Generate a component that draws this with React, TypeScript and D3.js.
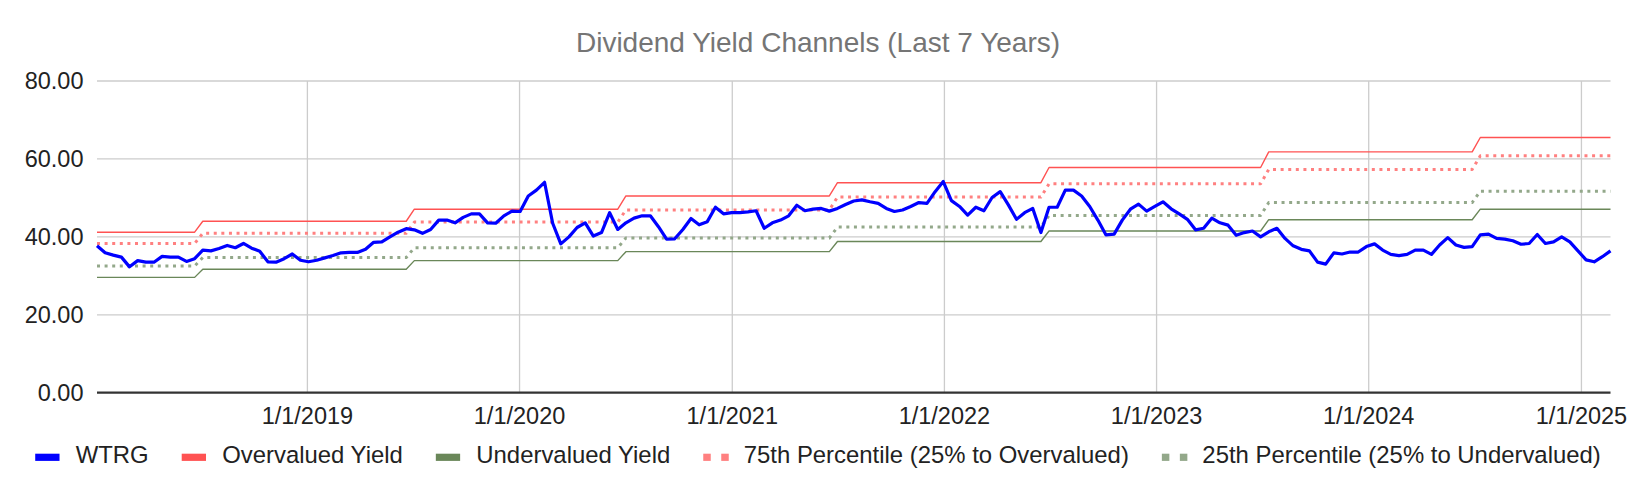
import React, { useEffect, useRef } from 'react';
import * as d3 from 'd3';

const W = 1636;
const H = 494;

// Bi-weekly observations starting 2018-01-04
const START_DATE = Date.UTC(2018, 0, 4);
const STEP_DAYS = 14;

const wtrg = [
  37.7, 35.9, 35.3, 34.8, 32.3, 33.9, 33.5, 33.5, 35.0, 34.8,
  34.8, 33.7, 34.4, 36.6, 36.4, 37.0, 37.8, 37.2, 38.3, 37.1,
  36.3, 33.6, 33.5, 34.4, 35.6, 34.0, 33.6, 34.0, 34.6, 35.2,
  35.9, 36.0, 36.0, 36.8, 38.6, 38.7, 40.0, 41.2, 42.1, 41.8,
  40.9, 41.9, 44.3, 44.3, 43.6, 45.0, 45.9, 45.9, 43.6, 43.5,
  45.4, 46.6, 46.5, 50.5, 52.0, 54.0, 43.5, 38.2, 40.0, 42.4,
  43.6, 40.2, 41.1, 46.2, 41.9, 43.6, 44.8, 45.4, 45.4, 42.6,
  39.4, 39.5, 41.9, 44.7, 43.1, 43.9, 47.6, 45.9, 46.2, 46.2,
  46.4, 46.7, 42.2, 43.6, 44.3, 45.4, 48.1, 46.7, 47.1,
  47.3, 46.6, 47.3, 48.3, 49.2, 49.5, 49.0, 48.6, 47.3, 46.5,
  46.9, 47.8, 48.8, 48.6, 51.6, 54.2, 49.3, 47.8, 45.6, 47.6,
  46.7, 50.1, 51.6, 48.2, 44.5, 46.2, 47.3, 41.1, 47.6, 47.6,
  52.0, 52.0, 50.5, 47.8, 44.3, 40.5, 40.7, 44.3, 47.1, 48.4,
  46.6, 47.8, 49.0, 47.2, 45.9, 44.5, 41.8, 42.2, 44.8,
  43.6, 43.0, 40.4, 41.1, 41.5, 40.0, 41.3, 42.2, 39.6, 37.7,
  36.8, 36.4, 33.5, 33.0, 35.9, 35.6, 36.1, 36.1, 37.5, 38.2,
  36.6, 35.5, 35.2, 35.5, 36.6, 36.6, 35.5, 37.9, 39.8, 37.9,
  37.3, 37.5, 40.5, 40.7, 39.6, 39.4, 39.0, 38.1, 38.3, 40.6,
  38.3, 38.7, 40.0, 38.7, 36.4, 34.1, 33.6, 34.9, 36.4,
];

// Channel levels by yearly period (reset at end of June)
const periodStarts = [
  '2018-01-01', '2018-06-30', '2019-06-30', '2020-06-30',
  '2021-06-30', '2022-06-30', '2023-06-30', '2024-06-30',
];
const overvalued = [41.2, 44.0, 47.1, 50.5, 53.9, 57.8, 61.8, 65.5];
const pct75 = [38.3, 40.9, 43.8, 46.9, 50.2, 53.6, 57.3, 60.8];
const pct25 = [32.5, 34.7, 37.2, 39.7, 42.5, 45.5, 48.8, 51.7];
const undervalued = [29.6, 31.7, 33.9, 36.2, 38.8, 41.5, 44.4, 47.1];

const yTicks = [0, 20, 40, 60, 80];
const xTickYears = [2019, 2020, 2021, 2022, 2023, 2024, 2025];

const seriesNames = [
  'WTRG',
  'Overvalued Yield',
  'Undervalued Yield',
  '75th Percentile (25% to Overvalued)',
  '25th Percentile (25% to Undervalued)',
];

const TITLE = 'Dividend Yield Channels (Last 7 Years)';
const FONT = '"Liberation Sans", Arial, Helvetica, sans-serif';

export default function App() {
  const ref = useRef<SVGSVGElement | null>(null);

  useEffect(() => {
    const svg = d3.select(ref.current);
    svg.selectAll('*').remove();

    const dates = wtrg.map((_, i) => new Date(START_DATE + i * STEP_DAYS * 86400000));
    const starts = periodStarts.map((s) => new Date(s + 'T00:00:00Z'));
    const pIdx = (d: Date) => d3.bisectRight(starts, d) - 1;

    const x = d3.scaleUtc().domain([dates[0], dates[dates.length - 1]]).range([97, 1610.5]);
    const y = d3.scaleLinear().domain([0, 80]).range([392.7, 81]);

    svg.append('rect').attr('width', W).attr('height', H).attr('fill', '#ffffff');

    // title
    svg.append('text')
      .attr('x', 818).attr('y', 52)
      .attr('text-anchor', 'middle')
      .attr('font-family', FONT).attr('font-size', 28)
      .attr('fill', '#757575')
      .text(TITLE);

    const grid = svg.append('g');
    grid.selectAll('line.h').data(yTicks.filter((t) => t !== 0)).enter().append('line')
      .attr('x1', x.range()[0]).attr('x2', x.range()[1])
      .attr('y1', (d) => y(d)).attr('y2', (d) => y(d))
      .attr('stroke', '#cccccc').attr('stroke-width', 1.3);
    const xTicks = xTickYears.map((yr) => new Date(Date.UTC(yr, 0, 1)));
    grid.selectAll('line.v').data(xTicks).enter().append('line')
      .attr('x1', (d) => x(d)).attr('x2', (d) => x(d))
      .attr('y1', y(80)).attr('y2', y(0))
      .attr('stroke', '#cccccc').attr('stroke-width', 1.3);

    // y labels
    svg.append('g').selectAll('text').data(yTicks).enter().append('text')
      .attr('x', 83.5).attr('y', (d) => y(d)).attr('dy', '0.36em')
      .attr('text-anchor', 'end')
      .attr('font-family', FONT).attr('font-size', 23.5).attr('fill', '#222222')
      .text((d) => d3.format('.2f')(d));

    // x labels
    svg.append('g').selectAll('text').data(xTicks).enter().append('text')
      .attr('x', (d) => x(d)).attr('y', 424.3)
      .attr('text-anchor', 'middle')
      .attr('font-family', FONT).attr('font-size', 23.5).attr('fill', '#222222')
      .text((d) => d3.utcFormat('%-m/%-d/%Y')(d));

    const line = d3.line<[Date, number]>().x((d) => x(d[0])).y((d) => y(d[1]));
    const chan = (arr: number[]) => dates.map((d) => [d, arr[pIdx(d)]] as [Date, number]);

    const series = [
      { name: seriesNames[0], pts: dates.map((d, i) => [d, wtrg[i]] as [Date, number]), color: '#0000ff', width: 3.2, dash: null as string | null },
      { name: seriesNames[1], pts: chan(overvalued), color: '#ff5252', width: 1.4, dash: null },
      { name: seriesNames[2], pts: chan(undervalued), color: '#6a8759', width: 1.4, dash: null },
      { name: seriesNames[3], pts: chan(pct75), color: '#ff8080', width: 3, dash: '3 4.6' },
      { name: seriesNames[4], pts: chan(pct25), color: '#93a88a', width: 3, dash: '3 4.6' },
    ];

    const drawOrder = [1, 2, 3, 4, 0];
    drawOrder.forEach((si) => {
      const s = series[si];
      const p = svg.append('path')
        .attr('d', line(s.pts) as string)
        .attr('fill', 'none')
        .attr('stroke', s.color)
        .attr('stroke-width', s.width)
        .attr('stroke-linejoin', 'round');
      if (s.dash) p.attr('stroke-dasharray', s.dash);
    });

    // zero baseline
    svg.append('line')
      .attr('x1', x.range()[0]).attr('x2', x.range()[1])
      .attr('y1', y(0)).attr('y2', y(0))
      .attr('stroke', '#333333').attr('stroke-width', 2.3);

    // legend
    const lg = svg.append('g');
    const items = series.map((s) => {
      const g = lg.append('g');
      if (s.dash) {
        g.append('rect').attr('x', 0).attr('y', -3.6).attr('width', 7.5).attr('height', 7.2).attr('fill', s.color);
        g.append('rect').attr('x', 18).attr('y', -3.6).attr('width', 7.5).attr('height', 7.2).attr('fill', s.color);
      } else {
        g.append('rect').attr('x', 0).attr('y', -3.6).attr('width', 24.3).attr('height', 7.2).attr('fill', s.color);
      }
      const t = g.append('text')
        .attr('x', 40.5).attr('y', 6)
        .attr('font-family', FONT).attr('font-size', 23.9).attr('fill', '#222222')
        .text(s.name);
      const tw = (t.node() as SVGTextElement).getComputedTextLength();
      return { g, w: 40.5 + tw };
    });
    const gap = 33;
    const total = d3.sum(items, (d) => d.w) + gap * (items.length - 1);
    let cx = 818 - total / 2;
    items.forEach((it) => {
      it.g.attr('transform', `translate(${cx},457.3)`);
      cx += it.w + gap;
    });
  }, []);

  return (
    <svg
      ref={ref}
      width={W}
      height={H}
      style={{ position: 'absolute', left: 0, top: 0, display: 'block' }}
    />
  );
}
